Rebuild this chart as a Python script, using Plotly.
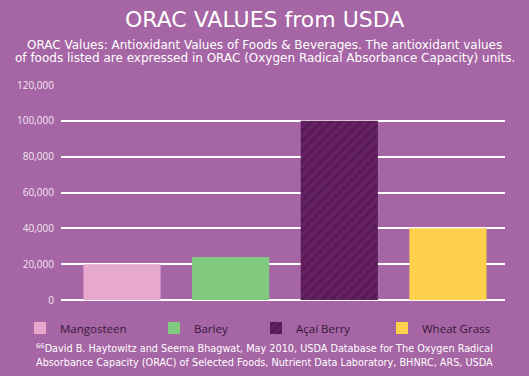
import plotly.graph_objects as go

categories = ["Mangosteen", "Barley", "Açaí Berry", "Wheat Grass"]
values = [20000, 24000, 100000, 40000]
colors = ["#E6A8CE", "#80C97E", "#642062", "#FFD04C"]
tick_vals = [0, 20000, 40000, 60000, 80000, 100000, 120000]

title_text = "ORAC VALUES from USDA"
subtitle_lines = [
    "ORAC Values: Antioxidant Values of Foods &amp; Beverages. The antioxidant values",
    "of foods listed are expressed in ORAC (Oxygen Radical Absorbance Capacity) units.",
]
footnote_lines = [
    "<sup>66</sup>David B. Haytowitz and Seema Bhagwat, May 2010, USDA Database for The Oxygen Radical",
    "Absorbance Capacity (ORAC) of Selected Foods, Nutrient Data Laboratory, BHNRC, ARS, USDA",
]

BG = "#A665A4"
FONT = "Open Sans"
WIDE = "DejaVu Sans"

W, H = 529, 376
ML, MR, MT, MB = 61, 24, 85, 76
PW, PH = W - ML - MR, H - MT - MB


def px_x(p):
    return (p - ML) / PW


def px_y(p):
    return (H - MB - p) / PH


fig = go.Figure()
legend_left_px = [20, 154, 256, 382]
for i, (c, v, col) in enumerate(zip(categories, values, colors)):
    marker = dict(color=col, line=dict(width=0))
    if i == 2:
        marker["pattern"] = dict(shape="/", fgcolor="#420F41", size=7, solidity=0.3, bgcolor=col)
    fig.add_trace(go.Bar(
        x=[i], y=[v], name=c, marker=marker, width=0.71,
        legend="legend" if i == 0 else f"legend{i+1}",
        hoverinfo="skip",
    ))

leg_common = dict(orientation="h", yanchor="middle", y=px_y(328), xanchor="left",
                  bgcolor="rgba(0,0,0,0)", font=dict(family=FONT, size=11.5, color="#38183A"),
                  itemwidth=30, tracegroupgap=0)
fig.update_layout(
    legend=dict(x=px_x(legend_left_px[0]), **leg_common),
    legend2=dict(x=px_x(legend_left_px[1]), **leg_common),
    legend3=dict(x=px_x(legend_left_px[2]), **leg_common),
    legend4=dict(x=px_x(legend_left_px[3]), **leg_common),
)

cx = px_x(264.5)
annotations = [
    dict(text=title_text, x=cx, y=px_y(20), font=dict(family=WIDE, size=22, color="#FFFFFF")),
    dict(text=subtitle_lines[0], x=cx, y=px_y(45), font=dict(family=WIDE, size=12, color="#FFFFFF")),
    dict(text=subtitle_lines[1], x=cx, y=px_y(57.5), font=dict(family=WIDE, size=12, color="#FFFFFF")),
    dict(text=footnote_lines[0], x=cx, y=px_y(348), font=dict(family=WIDE, size=9.7, color="#FFFFFF")),
    dict(text=footnote_lines[1], x=cx, y=px_y(362), font=dict(family=WIDE, size=9.7, color="#FFFFFF")),
]
for a in annotations:
    a.update(xref="paper", yref="paper", showarrow=False, xanchor="center", yanchor="middle")

fig.update_layout(
    width=W, height=H,
    paper_bgcolor=BG, plot_bgcolor=BG,
    margin=dict(l=ML, r=MR, t=MT, b=MB, autoexpand=False),
    showlegend=True,
    xaxis=dict(range=[-0.561, 3.525], showticklabels=False, showgrid=False,
               zeroline=False, showline=False, fixedrange=True),
    yaxis=dict(range=[0, 120000], tickvals=tick_vals, tickformat=",",
               showgrid=True, gridcolor="#FFFFFF", gridwidth=2,
               zeroline=True, zerolinecolor="#FFFFFF", zerolinewidth=2,
               showline=False, ticks="", ticklabelstandoff=6,
               tickfont=dict(family=FONT, size=10, color="#F2E6F2"), fixedrange=True),
    annotations=annotations,
)

fig.write_html("out.html", config={"displayModeBar": False},
               post_script="document.body.style.margin='0px';")
